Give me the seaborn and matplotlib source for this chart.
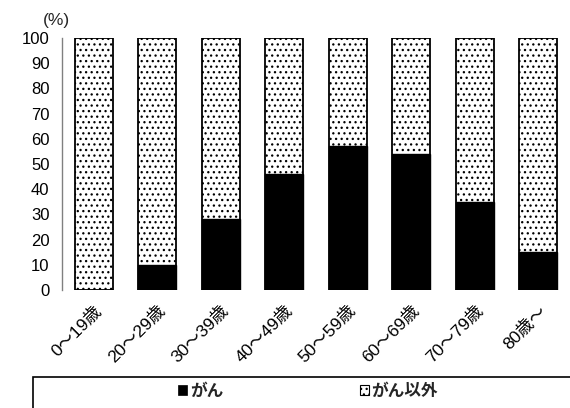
import matplotlib
matplotlib.use("Agg")
import matplotlib.pyplot as plt
from matplotlib.patches import Patch, Rectangle
import seaborn as sns
import pandas as pd

ages = ["0～19歳", "20～29歳", "30～39歳", "40～49歳", "50～59歳", "60～69歳", "70～79歳", "80歳～"]
cancer = [0, 10, 28, 46, 57, 54, 35, 15]
other = [100, 90, 72, 54, 43, 46, 65, 85]
series_names = ["がん", "がん以外"]
y_ticks = [0, 10, 20, 30, 40, 50, 60, 70, 80, 90, 100]

sns.set_theme(style="white")
plt.rcParams["font.family"] = ["Liberation Sans", "Noto Sans CJK JP", "DejaVu Sans"]
plt.rcParams["hatch.linewidth"] = 0.9

df = pd.DataFrame({"age": ages, "cancer": cancer, "other": other})
df["total"] = df["cancer"] + df["other"]

fig = plt.figure(figsize=(5.7, 4.08), dpi=100)
ax = fig.add_axes([62 / 570, 1 - 290 / 408, 1 - 62 / 570, (290 - 38) / 408])

# stacked columns: full-height stippled bar, then the cancer share in black over it
sns.barplot(data=df, x="age", y="total", order=ages, color="white", edgecolor="black",
            linewidth=1.3, width=0.6, hatch="...", saturation=1, ax=ax)
sns.barplot(data=df, x="age", y="cancer", order=ages, color="black", edgecolor="black",
            linewidth=1.0, width=0.6, saturation=1, ax=ax)

ax.set_xlim(-0.5, len(ages) - 0.5)
ax.set_ylim(0, 100)
ax.set_yticks(y_ticks)
ax.set_xlabel("")
ax.set_ylabel("")

for s in ["top", "right", "bottom"]:
    ax.spines[s].set_visible(False)
ax.spines["left"].set_color("#808080")
ax.spines["left"].set_linewidth(1.0)

ax.tick_params(axis="y", direction="in", length=6, width=1, color="#808080",
               labelsize=12, labelcolor="black", pad=9)
ax.tick_params(axis="x", which="major", length=0, labelsize=12.5, labelcolor="black", pad=9)
ax.set_xticks([i + 0.5 for i in range(len(ages) - 1)], minor=True)
ax.tick_params(axis="x", which="minor", direction="in", length=5, width=1, color="#808080")
plt.setp(ax.get_xticklabels(), rotation=45, ha="right", rotation_mode="anchor")

fig.text(43 / 570, 1 - 21 / 408, "(%)", fontsize=12.5, ha="left", va="center")

# legend frame running off the bottom right of the figure
fig.patches.append(Rectangle((33 / 570, -0.2), 1.0, 0.2 + (408 - 377) / 408,
                             transform=fig.transFigure, fill=False,
                             edgecolor="black", linewidth=1.2, clip_on=False))
handles = [Patch(facecolor="black", edgecolor="black", linewidth=0.5),
           Patch(facecolor="white", edgecolor="black", hatch="...", linewidth=0.8)]
fig.legend(handles, series_names, ncol=2, loc="center", frameon=False,
           bbox_to_anchor=(308 / 570, 1 - 391 / 408), handlelength=0.55, handleheight=0.55,
           handletextpad=0.15, columnspacing=8.2,
           prop={"size": 12, "weight": "bold"})

fig.savefig("out.png", dpi=100)
